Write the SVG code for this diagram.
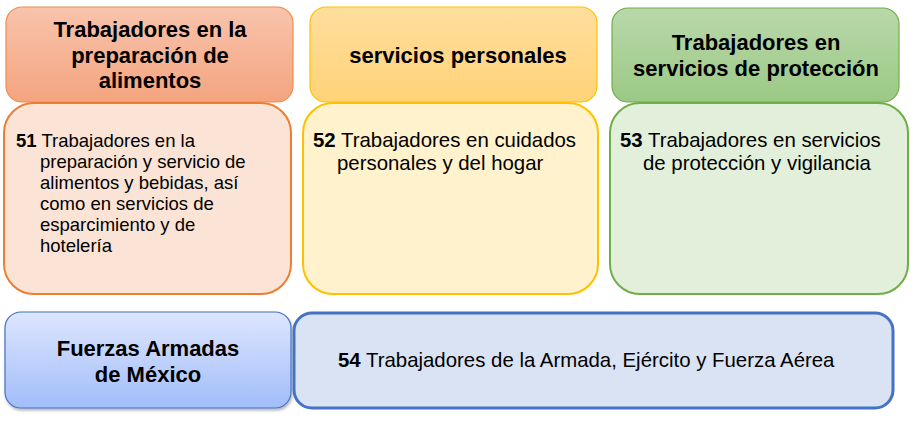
<svg xmlns="http://www.w3.org/2000/svg" width="917" height="425" viewBox="0 0 917 425">
<defs>
<linearGradient id="gO" x1="0" y1="0" x2="0" y2="1"><stop offset="0" stop-color="#F8C4AC"/><stop offset="1" stop-color="#F4A47F"/></linearGradient>
<linearGradient id="gY" x1="0" y1="0" x2="0" y2="1"><stop offset="0" stop-color="#FFDE9E"/><stop offset="1" stop-color="#FFD377"/></linearGradient>
<linearGradient id="gG" x1="0" y1="0" x2="0" y2="1"><stop offset="0" stop-color="#B9D8AA"/><stop offset="1" stop-color="#9BC985"/></linearGradient>
<linearGradient id="gB" x1="0" y1="0" x2="0" y2="1"><stop offset="0" stop-color="#DDE6FE"/><stop offset="1" stop-color="#A2BDFA"/></linearGradient>
<filter id="sh" x="-5%" y="-5%" width="112%" height="120%"><feDropShadow dx="1" dy="2" stdDeviation="1.5" flood-color="#000" flood-opacity="0.3"/></filter>
<style>
.t{font-family:"Liberation Sans",Arial,sans-serif;font-weight:bold;font-size:22px;fill:#000;text-anchor:middle}
.b{font-family:"Liberation Sans",Arial,sans-serif;font-size:18.5px;fill:#000}
.b2{font-family:"Liberation Sans",Arial,sans-serif;font-size:20.4px;fill:#000}
.n{font-weight:bold}
</style>
</defs>
<g id="head1"><rect x="6" y="7" width="287" height="95" rx="16" fill="url(#gO)" stroke="#F08C4F" stroke-width="1.2"/>
<text class="t"><tspan x="150" y="37">Trabajadores en la</tspan><tspan x="150" y="63">preparación de</tspan><tspan x="150" y="88">alimentos</tspan></text></g>
<g id="head2"><rect x="310" y="7" width="287" height="95" rx="16" fill="url(#gY)" stroke="#FFC000" stroke-width="1.2"/>
<text class="t" x="458" y="63">servicios personales</text></g>
<g id="head3"><rect x="612" y="8" width="287" height="94" rx="16" fill="url(#gG)" stroke="#70AD47" stroke-width="1.2"/>
<text class="t"><tspan x="756" y="50">Trabajadores en</tspan><tspan x="756" y="76">servicios de protección</tspan></text></g>
<g id="body51"><rect x="4" y="103" width="287" height="191" rx="30" fill="#FBE4D6" stroke="#ED7D31" stroke-width="2"/>
<text class="b"><tspan x="16" y="147" class="n">51</tspan><tspan> Trabajadores en la</tspan><tspan x="40" y="168">preparación y servicio de</tspan><tspan x="40" y="189">alimentos y bebidas, así</tspan><tspan x="40" y="210">como en servicios de</tspan><tspan x="40" y="231">esparcimiento y de</tspan><tspan x="40" y="252">hotelería</tspan></text></g>
<g id="body52"><rect x="303" y="103" width="295" height="191" rx="30" fill="#FFF2CC" stroke="#FFC000" stroke-width="2"/>
<text class="b2"><tspan x="313" y="147" class="n">52</tspan><tspan> Trabajadores en cuidados</tspan><tspan x="337" y="170">personales y del hogar</tspan></text></g>
<g id="body53"><rect x="610" y="103" width="298" height="191" rx="30" fill="#E2EFDA" stroke="#70AD47" stroke-width="2"/>
<text class="b2"><tspan x="620" y="147" class="n">53</tspan><tspan> Trabajadores en servicios</tspan><tspan x="643" y="170">de protección y vigilancia</tspan></text></g>
<g id="head4"><rect x="5" y="312" width="286" height="96" rx="16" fill="url(#gB)" stroke="#4472C4" stroke-width="1.2" filter="url(#sh)"/>
<text class="t"><tspan x="148" y="356">Fuerzas Armadas</tspan><tspan x="148" y="382">de México</tspan></text></g>
<g id="body54"><rect x="294" y="313" width="599" height="95" rx="18" fill="#DAE3F3" stroke="#4472C4" stroke-width="3"/>
<text class="b2" x="338" y="367"><tspan class="n">54</tspan> Trabajadores de la Armada, Ejército y Fuerza Aérea</text></g>
<g id="connectors"/>
</svg>
